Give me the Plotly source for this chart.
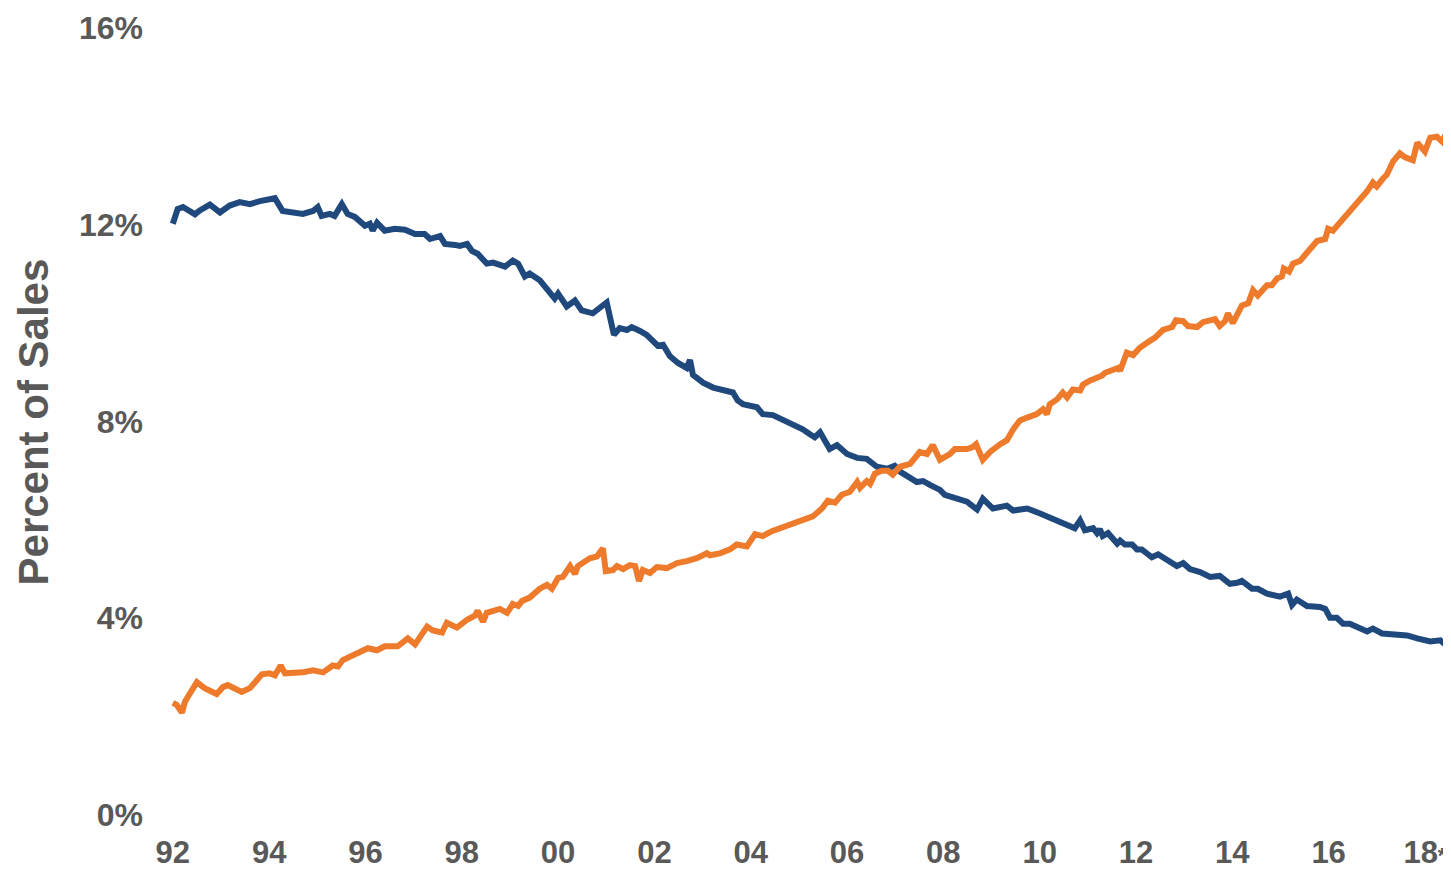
import plotly.graph_objects as go

# ---- data (decimal year, percent of sales) ----
blue_years = [1992.00, 1992.10, 1992.21, 1992.31, 1992.46, 1992.56, 1992.77, 1992.98, 1993.18, 1993.39,
              1993.60, 1993.81, 1994.01, 1994.12, 1994.28, 1994.49, 1994.70, 1994.91, 1995.01, 1995.09,
              1995.26, 1995.36, 1995.51, 1995.63, 1995.78, 1995.99, 1996.09, 1996.15, 1996.24, 1996.40,
              1996.61, 1996.82, 1997.03, 1997.23, 1997.34, 1997.55, 1997.65, 1997.86, 1997.96, 1998.11,
              1998.21, 1998.33, 1998.52, 1998.65, 1998.90, 1999.06, 1999.17, 1999.31, 1999.41, 1999.62,
              1999.93, 2000.00, 2000.18, 2000.35, 2000.49, 2000.72, 2001.01, 2001.16, 2001.28, 2001.43,
              2001.53, 2001.70, 2001.84, 2002.07, 2002.18, 2002.32, 2002.49, 2002.67, 2002.74, 2002.80,
              2003.01, 2003.22, 2003.42, 2003.63, 2003.73, 2003.84, 2004.13, 2004.25, 2004.46, 2004.81,
              2004.88, 2005.08, 2005.23, 2005.33, 2005.44, 2005.64, 2005.79, 2006.00, 2006.21, 2006.41,
              2006.62, 2006.83, 2006.99, 2007.10, 2007.45, 2007.58, 2007.72, 2007.93, 2008.03, 2008.34,
              2008.49, 2008.70, 2008.82, 2009.03, 2009.32, 2009.45, 2009.74, 2010.01, 2010.15, 2010.28,
              2010.42, 2010.73, 2010.84, 2010.94, 2011.11, 2011.19, 2011.25, 2011.31, 2011.42, 2011.61,
              2011.67, 2011.77, 2011.92, 2012.02, 2012.12, 2012.33, 2012.46, 2012.71, 2012.85, 2012.98,
              2013.12, 2013.33, 2013.54, 2013.74, 2013.95, 2014.10, 2014.20, 2014.41, 2014.53, 2014.72,
              2014.99, 2015.16, 2015.24, 2015.34, 2015.55, 2015.82, 2015.93, 2016.03, 2016.17, 2016.30,
              2016.44, 2016.80, 2016.92, 2017.11, 2017.42, 2017.63, 2017.84, 2018.11, 2018.32, 2018.42]
blue_vals = [12.02, 12.32, 12.36, 12.30, 12.21, 12.29, 12.41, 12.25, 12.39, 12.46,
             12.42, 12.48, 12.50, 12.54, 12.28, 12.26, 12.22, 12.28, 12.36, 12.18,
             12.22, 12.18, 12.42, 12.22, 12.16, 11.98, 12.02, 11.88, 12.04, 11.88,
             11.92, 11.90, 11.81, 11.81, 11.71, 11.77, 11.61, 11.59, 11.57, 11.61,
             11.47, 11.41, 11.21, 11.23, 11.15, 11.27, 11.21, 10.95, 11.01, 10.87,
             10.50, 10.60, 10.34, 10.46, 10.26, 10.20, 10.42, 9.76, 9.90, 9.86,
             9.92, 9.84, 9.76, 9.54, 9.56, 9.33, 9.19, 9.09, 9.25, 8.95,
             8.79, 8.69, 8.65, 8.59, 8.43, 8.35, 8.29, 8.15, 8.13, 7.98,
             7.94, 7.84, 7.74, 7.68, 7.78, 7.44, 7.52, 7.34, 7.26, 7.24,
             7.08, 7.04, 7.10, 6.98, 6.77, 6.79, 6.71, 6.61, 6.51, 6.43,
             6.37, 6.21, 6.43, 6.23, 6.29, 6.19, 6.23, 6.13, 6.07, 6.03,
             5.97, 5.83, 5.99, 5.79, 5.83, 5.73, 5.81, 5.67, 5.73, 5.52,
             5.58, 5.50, 5.50, 5.40, 5.40, 5.24, 5.30, 5.16, 5.06, 5.12,
             5.00, 4.94, 4.84, 4.86, 4.70, 4.72, 4.76, 4.60, 4.60, 4.50,
             4.44, 4.50, 4.27, 4.38, 4.25, 4.23, 4.19, 4.01, 4.01, 3.89,
             3.89, 3.73, 3.79, 3.69, 3.67, 3.65, 3.59, 3.53, 3.55, 3.47]

orange_years = [1992.00, 1992.08, 1992.19, 1992.25, 1992.31, 1992.50, 1992.66, 1992.91, 1993.04, 1993.14,
                1993.43, 1993.60, 1993.85, 1994.01, 1994.12, 1994.24, 1994.33, 1994.58, 1994.70, 1994.91,
                1995.12, 1995.32, 1995.43, 1995.53, 1995.72, 1995.88, 1996.05, 1996.24, 1996.40, 1996.67,
                1996.88, 1997.03, 1997.28, 1997.40, 1997.59, 1997.69, 1997.90, 1998.11, 1998.27, 1998.33,
                1998.44, 1998.52, 1998.79, 1998.94, 1999.06, 1999.17, 1999.25, 1999.41, 1999.62, 1999.77,
                1999.87, 2000.00, 2000.10, 2000.25, 2000.35, 2000.41, 2000.66, 2000.81, 2000.93, 2000.99,
                2001.14, 2001.22, 2001.35, 2001.49, 2001.60, 2001.68, 2001.76, 2001.91, 2002.05, 2002.26,
                2002.47, 2002.67, 2002.88, 2003.09, 2003.15, 2003.36, 2003.57, 2003.71, 2003.92, 2004.09,
                2004.25, 2004.44, 2004.61, 2004.88, 2005.08, 2005.29, 2005.48, 2005.60, 2005.75, 2005.89,
                2006.06, 2006.21, 2006.27, 2006.41, 2006.48, 2006.58, 2006.72, 2006.85, 2006.95, 2007.10,
                2007.31, 2007.51, 2007.66, 2007.78, 2007.93, 2008.14, 2008.24, 2008.49, 2008.61, 2008.68,
                2008.82, 2008.97, 2009.18, 2009.32, 2009.45, 2009.59, 2009.74, 2009.94, 2010.07, 2010.15,
                2010.21, 2010.36, 2010.48, 2010.57, 2010.69, 2010.84, 2010.90, 2011.04, 2011.29, 2011.36,
                2011.63, 2011.67, 2011.73, 2011.81, 2011.94, 2012.08, 2012.29, 2012.39, 2012.56, 2012.75,
                2012.83, 2012.98, 2013.08, 2013.27, 2013.39, 2013.54, 2013.64, 2013.74, 2013.85, 2013.91,
                2014.01, 2014.20, 2014.33, 2014.43, 2014.53, 2014.72, 2014.82, 2014.93, 2015.03, 2015.07,
                2015.18, 2015.26, 2015.41, 2015.55, 2015.76, 2015.93, 2015.99, 2016.09, 2016.24, 2016.39,
                2016.69, 2016.80, 2016.92, 2017.00, 2017.13, 2017.21, 2017.34, 2017.48, 2017.59, 2017.75,
                2017.84, 2018.00, 2018.11, 2018.25, 2018.36, 2018.44]
orange_vals = [2.28, 2.24, 2.08, 2.30, 2.40, 2.70, 2.58, 2.46, 2.60, 2.64,
               2.50, 2.58, 2.86, 2.88, 2.84, 3.04, 2.88, 2.88, 2.90, 2.94,
               2.90, 3.04, 3.02, 3.15, 3.23, 3.31, 3.39, 3.35, 3.43, 3.43,
               3.59, 3.47, 3.83, 3.75, 3.71, 3.91, 3.81, 3.97, 4.05, 4.15,
               3.93, 4.11, 4.19, 4.11, 4.29, 4.25, 4.35, 4.42, 4.60, 4.68,
               4.60, 4.82, 4.84, 5.06, 4.90, 5.06, 5.22, 5.26, 5.42, 4.96,
               4.98, 5.06, 5.00, 5.08, 5.06, 4.76, 4.98, 4.92, 5.04, 5.02,
               5.12, 5.16, 5.22, 5.32, 5.28, 5.32, 5.40, 5.50, 5.46, 5.71,
               5.67, 5.77, 5.83, 5.91, 5.97, 6.07, 6.23, 6.39, 6.35, 6.51,
               6.57, 6.77, 6.65, 6.79, 6.73, 6.94, 7.00, 7.00, 6.92, 7.08,
               7.14, 7.38, 7.34, 7.52, 7.22, 7.34, 7.44, 7.44, 7.48, 7.54,
               7.22, 7.38, 7.54, 7.62, 7.84, 8.02, 8.08, 8.15, 8.25, 8.15,
               8.35, 8.45, 8.59, 8.49, 8.65, 8.63, 8.75, 8.83, 8.93, 8.99,
               9.09, 9.03, 9.19, 9.40, 9.35, 9.50, 9.64, 9.70, 9.86, 9.92,
               10.06, 10.04, 9.94, 9.92, 10.02, 10.06, 10.08, 9.94, 10.04, 10.20,
               10.00, 10.36, 10.40, 10.67, 10.56, 10.77, 10.77, 10.91, 10.95, 11.11,
               11.05, 11.21, 11.27, 11.43, 11.67, 11.71, 11.92, 11.88, 12.04, 12.22,
               12.52, 12.68, 12.86, 12.78, 12.94, 13.02, 13.29, 13.45, 13.37, 13.31,
               13.67, 13.49, 13.77, 13.79, 13.69, 13.85]

x_tick_vals = [1992, 1994, 1996, 1998, 2000, 2002, 2004, 2006, 2008, 2010, 2012, 2014, 2016, 2018]
x_tick_text = ["92", "94", "96", "98", "00", "02", "04", "06", "08", "10", "12", "14", "16",
               "18<span style='font-size:22px'>*</span>"]
y_tick_vals = [0, 4, 8, 12, 16]
y_tick_text = ["0%", "4%", "8%", "12%", "16%"]

BLUE = "#1F497D"
ORANGE = "#EE7A2B"
GRAY = "#595959"
FONT = "Liberation Sans, Arial, sans-serif"

fig = go.Figure()
fig.add_trace(go.Scatter(x=blue_years, y=blue_vals, mode="lines", name="Series 1",
                         line=dict(color=BLUE, width=6)))
fig.add_trace(go.Scatter(x=orange_years, y=orange_vals, mode="lines", name="Series 2",
                         line=dict(color=ORANGE, width=6)))

# page has an 8px body margin, so the figure is sized to fit inside the window
fig.update_layout(
    width=1443, height=864,
    margin=dict(l=160, r=2, t=14, b=56),
    paper_bgcolor="white", plot_bgcolor="white",
    showlegend=False,
    font=dict(family=FONT, color=GRAY),
    xaxis=dict(range=[1991.9, 2018.5], tickvals=x_tick_vals, ticktext=x_tick_text,
               showgrid=False, zeroline=False, showline=False, ticks="",
               tickfont=dict(family=FONT, size=31, color=GRAY, weight="bold"),
               ticklabelstandoff=16, ticklabeloverflow="allow"),
    yaxis=dict(range=[0, 16], tickvals=y_tick_vals, ticktext=y_tick_text,
               showgrid=False, zeroline=False, showline=False, ticks="",
               tickfont=dict(family=FONT, size=32, color=GRAY, weight="bold"),
               ticklabelstandoff=24, ticklabeloverflow="allow"),
    annotations=[dict(text="Percent of Sales", textangle=-90, xref="paper", yref="paper",
                      x=(25 - 160) / 1281, y=(808 - 412) / 794, xanchor="center", yanchor="middle",
                      showarrow=False,
                      font=dict(family=FONT, size=42, color=GRAY, weight="bold"))],
)

fig.write_html("out.html")
